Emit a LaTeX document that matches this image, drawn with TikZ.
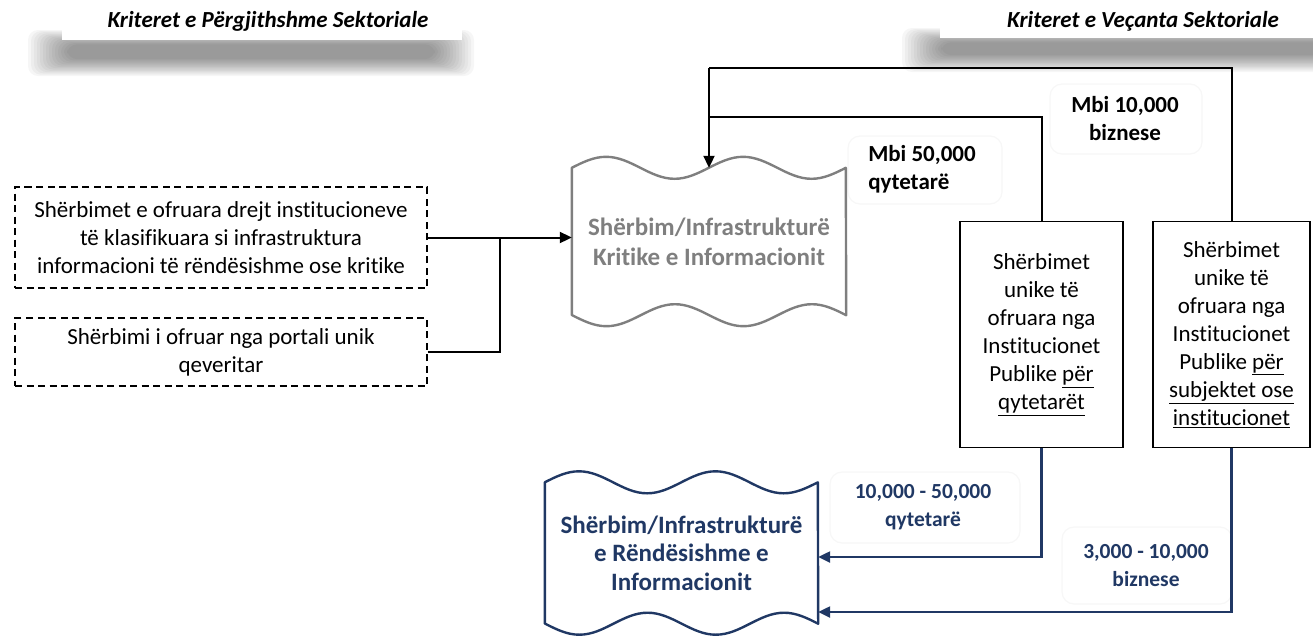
\documentclass[tikz,border=0pt]{standalone}
\usepackage{fontspec}
\setmainfont{Carlito}[Ligatures=NoCommon]
\usetikzlibrary{arrows.meta}
\definecolor{navy}{RGB}{32,56,100}
\definecolor{gdark}{RGB}{127,127,127}
\begin{document}
\begin{tikzpicture}[x=1pt,y=-1pt,
  conn/.style={line width=2pt, black},
  bconn/.style={line width=2.4pt, navy},
  tip/.style={-{Triangle[length=12pt,width=11pt]}},
  dbox/.style={draw, dashed, dash pattern=on 7pt off 4.5pt, line width=1.4pt, align=center, font=\fontsize{23}{28}\selectfont, inner sep=0pt},
  sbox/.style={draw, line width=1.6pt, align=center, font=\fontsize{23}{28}\selectfont, inner sep=0pt},
  lbl/.style={font=\bfseries\fontsize{23}{28}\selectfont},
  blbl/.style={font=\bfseries\fontsize{21.5}{28}\selectfont, text=navy},
  hdr/.style={font=\bfseries\itshape\fontsize{23}{26}\selectfont},
  faint/.style={draw=black!3, fill=white, rounded corners=12pt, line width=1.2pt},
  shade/.style={fill=black, opacity=0.034, rounded corners=10pt}
]
\useasboundingbox (0,0) rectangle (1313,641);
% header shadows
\foreach \i in {0,...,13}{
  \fill[shade] (28+3*\i, 30+1.1*\i) rectangle (474-3*\i, 76-1.3*\i);
  \fill[shade] (902+3*\i, 28+1.1*\i) rectangle (1340, 72-1.3*\i);
}
\fill[white] (62,0) rectangle (462,40);
\fill[white] (940,0) rectangle (1313,38);
\node[hdr] (h1) at (268,21) {Kriteret e Përgjithshme Sektoriale};
\node[hdr] (h2) at (1143,21) {Kriteret e Veçanta Sektoriale};

% faint label boxes
\draw[faint] (848,136) rectangle (1002,204);
\draw[faint] (1050,84) rectangle (1202,154);
\draw[faint] (830,472) rectangle (1020,543);
\draw[faint] (1062,527) rectangle (1232,604);

% left boxes
\node[dbox, minimum width=412pt, minimum height=101pt] (A) at (221,237.5)
  {Shërbimet e ofruara drejt institucioneve\\të klasifikuara si infrastruktura\\informacioni të rëndësishme ose kritike};
\node[dbox, minimum width=412pt, minimum height=68pt] (B) at (221,352)
  {Shërbimi i ofruar nga portali unik\\qeveritar};

% documents
\node[minimum width=274pt, minimum height=147pt, inner sep=0pt, align=center, text=gdark,
  font=\bfseries\fontsize{25}{30}\selectfont] (gdoc) at (709,241.5)
  {Shërbim/Infrastrukturë\\Kritike e Informacionit};
\draw[gdark, line width=2.4pt, line join=round] (gdoc.south west) -- (gdoc.north west)
  sin ++(34.25,-11) cos ++(34.25,11) sin ++(34.25,11) cos ++(34.25,-11)
  sin ++(34.25,-11) cos ++(34.25,11) sin ++(34.25,11) cos ++(34.25,-11)
  -- (gdoc.south east)
  sin ++(-34.25,-11) cos ++(-34.25,11) sin ++(-34.25,11) cos ++(-34.25,-11)
  sin ++(-34.25,-11) cos ++(-34.25,11) sin ++(-34.25,11) cos ++(-34.25,-11) -- cycle;

\node[minimum width=273pt, minimum height=141pt, inner sep=0pt, align=center, text=navy,
  font=\bfseries\fontsize{25}{28.5}\selectfont] (bdoc) at (681.5,553)
  {Shërbim/Infrastrukturë\\e Rëndësishme e\\Informacionit};
\draw[navy, line width=2.4pt, line join=round] (bdoc.south west) -- (bdoc.north west)
  sin ++(34.125,-11) cos ++(34.125,11) sin ++(34.125,11) cos ++(34.125,-11)
  sin ++(34.125,-11) cos ++(34.125,11) sin ++(34.125,11) cos ++(34.125,-11)
  -- (bdoc.south east)
  sin ++(-34.125,-11) cos ++(-34.125,11) sin ++(-34.125,11) cos ++(-34.125,-11)
  sin ++(-34.125,-11) cos ++(-34.125,11) sin ++(-34.125,11) cos ++(-34.125,-11) -- cycle;

% right boxes
\node[sbox, minimum width=163pt, minimum height=226pt] (C) at (1041.5,334.5)
  {Shërbimet\\unike të\\ofruara nga\\Institucionet\\Publike \underline{për}\\\underline{qytetarët}};
\node[sbox, minimum width=157pt, minimum height=226pt] (D) at (1231.5,334.5)
  {Shërbimet\\unike të\\ofruara nga\\Institucionet\\Publike \underline{për}\\\underline{subjektet ose}\\\underline{institucionet}};

% labels
\node[lbl, align=left] (l1) at (922,169) {Mbi 50,000\\qytetarë};
\node[lbl, align=center] (l2) at (1125,119) {Mbi 10,000\\biznese};
\node[blbl, align=center] (l3) at (923,507) {10,000 - 50,000\\qytetarë};
\node[blbl, align=center] (l4) at (1146,566) {3,000 - 10,000\\biznese};

% connectors left
\coordinate (j) at (500,237.5);
\draw[conn] (A.east) -- (j);
\draw[conn] (B.east) -| (j);
\draw[conn, tip] (j) -- (gdoc.west |- j);

% connectors top
\coordinate (t1) at (709,117);
\coordinate (t2) at (709,68);
\draw[conn] (C.north) |- (t1);
\draw[conn] (D.north) |- (t2);
\draw[conn, tip] (t2) -- (gdoc.north);

% connectors bottom
\coordinate (y1) at (0,557);
\coordinate (y2) at (0,612);
\draw[bconn, tip] (C.south) |- (bdoc.east |- y1);
\draw[bconn, tip] (D.south) |- (bdoc.east |- y2);
\end{tikzpicture}
\end{document}
